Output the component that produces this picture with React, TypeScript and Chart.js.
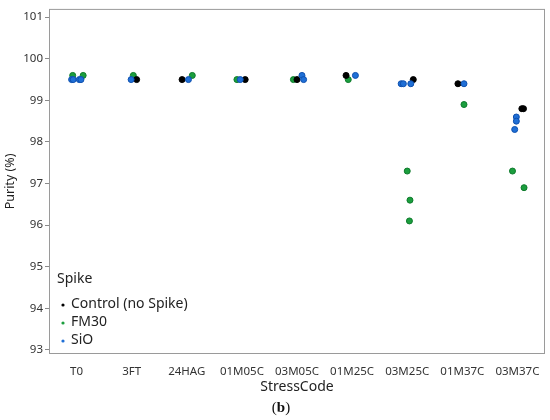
import React, { useEffect, useRef } from "react";
import { Chart, registerables } from "chart.js";

Chart.register(...registerables);

const categories = ["T0", "3FT", "24HAG", "01M05C", "03M05C", "01M25C", "03M25C", "01M37C", "03M37C"];
const yTicks = [93, 94, 95, 96, 97, 98, 99, 100, 101];

// Control (no Spike)
const controlCat = [1, 2, 3, 4, 5, 6, 7, 8, 8];
const controlJitter = [0.09, -0.085, 0.06, 0.0, -0.11, 0.11, -0.08, 0.08, 0.11];
const controlValues = [99.5, 99.5, 99.5, 99.5, 99.6, 99.5, 99.4, 98.8, 98.8];

// FM30
const fm30Cat = [0, 0, 1, 2, 3, 4, 5, 6, 6, 6, 7, 8, 8];
const fm30Jitter = [-0.07, 0.12, 0.03, 0.1, -0.09, -0.065, -0.07, 0.0, 0.05, 0.04, 0.03, -0.09, 0.12];
const fm30Values = [99.6, 99.6, 99.6, 99.6, 99.5, 99.5, 99.5, 97.3, 96.6, 96.1, 98.9, 97.3, 96.9];

// SiO
const sioCat = [0, 0, 0, 0, 1, 2, 3, 4, 4, 5, 6, 6, 6, 7, 8, 8, 8];
const sioJitter = [-0.09, -0.06, 0.05, 0.08, -0.01, 0.03, -0.03, 0.09, 0.12, 0.06, -0.11, -0.07, 0.065, 0.03, -0.02, -0.02, -0.05];
const sioValues = [99.5, 99.5, 99.5, 99.5, 99.5, 99.5, 99.5, 99.6, 99.5, 99.6, 99.4, 99.4, 99.4, 99.4, 98.6, 98.5, 98.3];

const seriesNames = ["Control (no Spike)", "FM30", "SiO"];
const legendTitle = "Spike";

const FONT = "'Segoe UI', 'Noto Sans', sans-serif";
const COLORS = ["#000000", "#1b9e3e", "#1f6fd6"];
const BORDERS = ["#000000", "#0d7a2b", "#0d4fae"];

function toPoints(cat: number[], jit: number[], vals: number[]) {
  return vals.map((v, i) => ({ x: cat[i] + jit[i], y: v }));
}

const framePlugin = {
  id: "frame",
  beforeDatasetsDraw(chart: any) {
    const { ctx, chartArea } = chart;
    const { left, top, right, bottom } = chartArea;
    ctx.save();
    ctx.strokeStyle = "#9a9a9a";
    ctx.lineWidth = 1;
    ctx.strokeRect(left + 0.5, top + 0.5, right - left - 1, bottom - top - 1);
    ctx.restore();
  },
};

const legendPlugin = {
  id: "insideLegend",
  afterDraw(chart: any) {
    const { ctx, chartArea } = chart;
    const { left, bottom } = chartArea;
    ctx.save();
    ctx.textBaseline = "middle";
    ctx.textAlign = "left";
    ctx.fillStyle = "#222";
    ctx.font = `14px ${FONT}`;
    ctx.fillText(legendTitle, left + 8, bottom - 75);
    const offs = [50, 32, 14];
    seriesNames.forEach((name, i) => {
      const y = bottom - offs[i];
      ctx.beginPath();
      ctx.fillStyle = COLORS[i];
      ctx.arc(left + 14, y + 1, 1.6, 0, Math.PI * 2);
      ctx.fill();
      ctx.fillStyle = "#222";
      ctx.fillText(name, left + 22, y);
    });
    ctx.restore();
  },
};

export default function App() {
  const ref = useRef<HTMLCanvasElement | null>(null);

  useEffect(() => {
    if (!ref.current) return;
    const chart = new Chart(ref.current, {
      type: "scatter",
      data: {
        datasets: [
          {
            label: seriesNames[0],
            data: toPoints(controlCat, controlJitter, controlValues),
            backgroundColor: COLORS[0],
            borderColor: BORDERS[0],
            borderWidth: 1,
            pointRadius: 3,
            order: 1,
          },
          {
            label: seriesNames[1],
            data: toPoints(fm30Cat, fm30Jitter, fm30Values),
            backgroundColor: COLORS[1],
            borderColor: BORDERS[1],
            borderWidth: 1,
            pointRadius: 3,
            order: 2,
          },
          {
            label: seriesNames[2],
            data: toPoints(sioCat, sioJitter, sioValues),
            backgroundColor: COLORS[2],
            borderColor: BORDERS[2],
            borderWidth: 1,
            pointRadius: 3,
            order: 0,
          },
        ],
      },
      options: {
        animation: false,
        responsive: false,
        layout: { padding: { left: 0, top: 5, right: 5, bottom: 24 } },
        plugins: {
          legend: { display: false },
          tooltip: { enabled: false },
        },
        scales: {
          x: {
            type: "linear",
            min: -0.5,
            max: 8.5,
            afterBuildTicks: (scale: any) => {
              scale.ticks = categories.map((_, i) => ({ value: i }));
            },
            afterFit: (scale: any) => {
              scale.height = 42;
            },
            grid: { display: false },
            border: { display: false },
            ticks: {
              callback: (v: any) => categories[Math.round(Number(v))] ?? "",
              color: "#333",
              font: { family: FONT, size: 11.5 },
              padding: 3,
              maxRotation: 0,
              autoSkip: false,
            },
            title: {
              display: true,
              text: "StressCode",
              color: "#222",
              font: { family: FONT, size: 14 },
              padding: { top: 0, bottom: 1 },
            },
          },
          y: {
            type: "linear",
            min: 92.9,
            max: 101.2,
            afterBuildTicks: (scale: any) => {
              scale.ticks = yTicks.map((v) => ({ value: v }));
            },
            afterFit: (scale: any) => {
              scale.width = 49;
            },
            grid: {
              drawOnChartArea: false,
              drawTicks: true,
              tickLength: 4,
              color: "#8a8a8a",
            },
            border: { display: false },
            ticks: {
              color: "#333",
              font: { family: FONT, size: 11.5 },
              padding: 2,
            },
            title: {
              display: true,
              text: "Purity (%)",
              color: "#222",
              font: { family: FONT, size: 12.5 },
              padding: { top: 3, bottom: 0 },
            },
          },
        },
      },
      plugins: [framePlugin, legendPlugin],
    });
    return () => chart.destroy();
  }, []);

  return (
    <div style={{ position: "absolute", left: 0, top: 0, width: 550, height: 420, background: "#fff" }}>
      <canvas ref={ref} width={550} height={420} style={{ width: 550, height: 420, display: "block" }} />
      <div
        style={{
          position: "absolute",
          left: 0,
          width: 562,
          top: 397,
          textAlign: "center",
          fontFamily: "'Liberation Serif', 'DejaVu Serif', serif",
          fontSize: 15,
          lineHeight: "20px",
          color: "#111",
        }}
      >
        (<b>b</b>)
      </div>
    </div>
  );
}
